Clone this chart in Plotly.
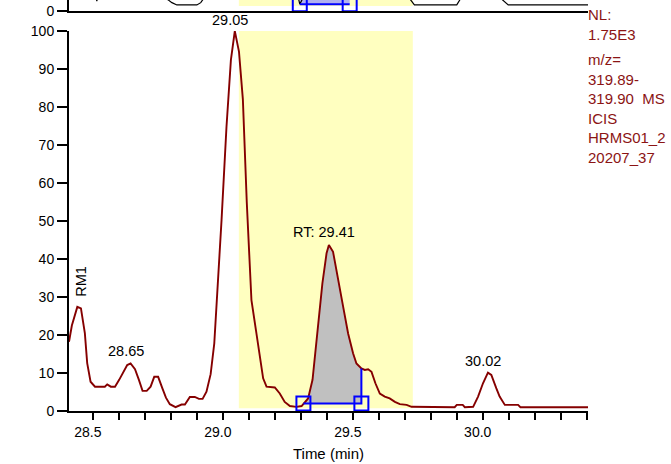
import numpy as np
import plotly.graph_objects as go

# ---------------- data ----------------
time_min = [28.408, 28.419, 28.440, 28.454, 28.469, 28.478, 28.491, 28.508, 28.546, 28.555,
            28.569, 28.585, 28.601, 28.617, 28.632, 28.645, 28.662, 28.677, 28.691, 28.707,
            28.722, 28.736, 28.751, 28.767, 28.781, 28.796, 28.818, 28.841, 28.854, 28.873,
            28.892, 28.908, 28.922, 28.937, 28.953, 28.967, 28.982, 28.995, 29.014, 29.031,
            29.046, 29.062, 29.077, 29.092, 29.110, 29.140, 29.155, 29.168, 29.200, 29.219,
            29.238, 29.258, 29.283, 29.303, 29.328, 29.345, 29.363, 29.383, 29.399, 29.408,
            29.424, 29.443, 29.463, 29.482, 29.501, 29.514, 29.533, 29.546, 29.559, 29.572,
            29.587, 29.604, 29.623, 29.642, 29.662, 29.681, 29.707, 29.726, 29.892, 29.900,
            29.923, 29.931, 29.963, 29.982, 30.001, 30.020, 30.033, 30.052, 30.065, 30.085,
            30.136, 30.145, 30.405]
rel_abundance = [18.2, 22.5, 27.4, 27.0, 20.5, 12.6, 7.7, 6.4, 6.4, 7.0,
                 6.4, 6.4, 8.2, 10.1, 12.1, 12.5, 11.0, 8.2, 5.3, 5.3,
                 6.4, 9.0, 9.0, 6.0, 3.5, 1.8, 1.0, 1.7, 1.7, 3.7,
                 3.7, 3.2, 3.2, 5.1, 9.7, 17.8, 33.7, 50.3, 74.8, 92.4,
                 100.0, 94.6, 82.0, 55.0, 29.2, 16.0, 8.6, 6.4, 6.2, 4.6,
                 2.4, 1.3, 1.1, 1.3, 3.3, 8.2, 20.4, 33.6, 41.5, 43.7,
                 41.9, 35.3, 27.4, 20.4, 15.2, 12.5, 11.2, 10.8, 11.0, 10.3,
                 7.3, 4.6, 3.8, 3.3, 2.4, 1.8, 1.6, 1.1, 1.0, 1.6,
                 1.6, 1.0, 1.1, 3.8, 7.3, 10.1, 9.5, 6.0, 3.8, 1.6,
                 1.6, 1.0, 1.0]

# upper (previous) chromatogram, only its bottom strip is visible
top_time = [28.408, 28.508, 28.515, 28.523, 28.700, 28.788, 28.804, 28.823, 28.900, 28.915,
            28.923, 29.000, 29.280, 29.292, 29.296, 29.300, 29.320, 29.700, 29.722, 29.737,
            29.900, 29.913, 29.930, 30.060, 30.075, 30.098, 30.405]
top_value = [5.0, 5.0, 2.6, 5.0, 5.0, 3.0, 2.2, 1.6, 1.6, 2.2,
             3.0, 5.0, 5.0, 3.0, 1.8, 3.0, 5.0, 5.0, 3.0, 1.6,
             1.6, 3.0, 5.0, 5.0, 3.0, 1.6, 1.6]

# highlighted time window and integrated peak
window_start, window_end = 29.0615, 29.731
peak_start, peak_end, peak_baseline = 29.31, 29.533, 2.0
top_peak_start, top_peak_end, top_peak_baseline = 29.296, 29.488, 1.8

peak_label_times = [28.645, 29.046, 29.408, 30.020]
peak_label_texts = ["28.65", "29.05", "RT: 29.41", "30.02"]
peak_label_yshift = [13, 11, 12.5, 12]
ref_marker_time, ref_marker_text = 28.440, "RM1"

x_tickvals = [28.5, 29.0, 29.5, 30.0]
x_ticktext = ["28.5", "29.0", "29.5", "30.0"]
y_tickvals = [0, 10, 20, 30, 40, 50, 60, 70, 80, 90, 100]

info_block1 = ["NL:", "1.75E3"]
info_block2 = ["m/z=", "319.89-", "319.90\u00a0\u00a0MS", "ICIS", "HRMS01_2", "20207_37"]

# ---------------- styling ----------------
FONT = "Liberation Sans, Arial, sans-serif"
LINE_RED = "#850000"
TEXT_RED = "#8B1414"
YELLOW = "#FFFFC0"
GREY = "#C0C0C0"
BLUE = "#0000FF"

t = np.array(time_min)
v = np.array(rel_abundance)

fig = go.Figure()

# grey integrated area
mask = (t >= peak_start) & (t <= peak_end)
fill_x = [peak_start] + list(t[mask]) + [peak_end]
fill_y = [peak_baseline] + list(v[mask]) + [peak_baseline]
fig.add_trace(go.Scatter(x=fill_x, y=fill_y, fill="toself", fillcolor=GREY,
                         line=dict(width=0), mode="lines", hoverinfo="skip",
                         xaxis="x", yaxis="y"))

# main chromatogram
fig.add_trace(go.Scatter(x=time_min, y=rel_abundance, mode="lines",
                         line=dict(color=LINE_RED, width=1.9), xaxis="x", yaxis="y"))

# integration baseline and right boundary
end_val = v[np.argmin(np.abs(t - peak_end))]
fig.add_trace(go.Scatter(x=[peak_start, peak_end, peak_end],
                         y=[peak_baseline, peak_baseline, end_val],
                         mode="lines", line=dict(color=BLUE, width=2),
                         xaxis="x", yaxis="y"))
fig.add_trace(go.Scatter(x=[peak_start, peak_end], y=[peak_baseline, peak_baseline],
                         mode="markers",
                         marker=dict(symbol="square-open", size=14, color=BLUE,
                                     line=dict(width=2, color=BLUE)),
                         xaxis="x", yaxis="y", cliponaxis=False))

# top strip: integrated area, trace, markers
fig.add_trace(go.Scatter(x=[top_peak_start, top_peak_start, top_peak_end, top_peak_end],
                         y=[top_peak_baseline, 4, 4, top_peak_baseline],
                         fill="toself", fillcolor="#B0B0F0", line=dict(width=0),
                         mode="lines", xaxis="x2", yaxis="y2"))
fig.add_trace(go.Scatter(x=top_time, y=top_value, mode="lines",
                         line=dict(color="black", width=1.2), xaxis="x2", yaxis="y2"))
fig.add_trace(go.Scatter(x=[top_peak_start, top_peak_end],
                         y=[top_peak_baseline, top_peak_baseline],
                         mode="lines+markers", line=dict(color=BLUE, width=2),
                         marker=dict(symbol="square-open", size=14, color=BLUE,
                                     line=dict(width=2, color=BLUE)),
                         xaxis="x2", yaxis="y2", cliponaxis=True))

shapes = [
    dict(type="rect", xref="x", yref="y", x0=window_start, x1=window_end, y0=0.7, y1=100.8,
         fillcolor=YELLOW, line=dict(width=0), layer="below"),
    dict(type="rect", xref="x2", yref="y2", x0=window_start, x1=window_end, y0=1.3, y1=5,
         fillcolor=YELLOW, line=dict(width=0), layer="below"),
]

annotations = []
for lt, txt, ys in zip(peak_label_times, peak_label_texts, peak_label_yshift):
    i = int(np.argmin(np.abs(t - lt)))
    annotations.append(dict(x=t[i], y=v[i], xref="x", yref="y", text=txt, showarrow=False,
                            xanchor="center", yanchor="middle", xshift=-5, yshift=ys,
                            font=dict(family=FONT, size=14.5, color="black")))
i = int(np.argmin(np.abs(t - ref_marker_time)))
annotations.append(dict(x=t[i], y=v[i], xref="x", yref="y", text=ref_marker_text,
                        showarrow=False, textangle=-90, xanchor="center", yanchor="middle",
                        xshift=3.5, yshift=26,
                        font=dict(family=FONT, size=14.5, color="black")))

annotations.append(dict(x=1, y=1, xref="paper", yref="paper", text="<br>".join(info_block1),
                        showarrow=False, xanchor="left", yanchor="top", align="left",
                        xshift=-2, yshift=-4,
                        font=dict(family=FONT, size=15, color=TEXT_RED)))
annotations.append(dict(x=1, y=1, xref="paper", yref="paper", text="<br>".join(info_block2),
                        showarrow=False, xanchor="left", yanchor="top", align="left",
                        xshift=-2, yshift=-49,
                        font=dict(family=FONT, size=15, color=TEXT_RED)))

plot_h = 464 - 53
fig.update_layout(
    width=671, height=464,
    margin=dict(l=69, r=83, t=0, b=53, autoexpand=False),
    paper_bgcolor="white", plot_bgcolor="white",
    showlegend=False,
    font=dict(family=FONT, size=14, color="black"),
    shapes=shapes, annotations=annotations,
    xaxis=dict(domain=[0, 1], anchor="y", range=[28.408, 30.405], automargin=False,
               tickvals=x_tickvals, ticktext=x_ticktext,
               ticks="outside", ticklen=7, tickwidth=2, tickcolor="black",
               minor=dict(dtick=0.1, tick0=28.5, ticks="outside", ticklen=7,
                          tickwidth=2, tickcolor="black", showgrid=False),
               showline=True, linewidth=2, linecolor="black", showgrid=False,
               zeroline=False, ticklabelshift=-5,
               tickfont=dict(family=FONT, size=14),
               title=dict(text="Time (min)", font=dict(family=FONT, size=15), standoff=10)),
    yaxis=dict(domain=[0, (plot_h - 31) / plot_h], anchor="x", range=[0, 100],
               automargin=False,
               tickvals=y_tickvals, ticks="outside", ticklen=10, tickwidth=2,
               tickcolor="black", showline=True, linewidth=2, linecolor="black",
               showgrid=False, zeroline=False, tickfont=dict(family=FONT, size=14)),
    xaxis2=dict(domain=[0, 1], anchor="y2", matches="x", showticklabels=False,
                automargin=False,
                ticks="", showline=True, linewidth=2, linecolor="black",
                showgrid=False, zeroline=False),
    yaxis2=dict(domain=[(plot_h - 11) / plot_h, 1], anchor="x2", range=[0, 2.9],
                automargin=False,
                tickvals=[0], ticktext=["0"], ticks="outside", ticklen=10, tickwidth=2,
                tickcolor="black", showline=True, linewidth=2, linecolor="black",
                showgrid=False, zeroline=False, tickfont=dict(family=FONT, size=14)),
)

fig.write_html("out.html", config={"displayModeBar": False},
               post_script="document.body.style.margin='0px';document.body.style.overflow='hidden';")
